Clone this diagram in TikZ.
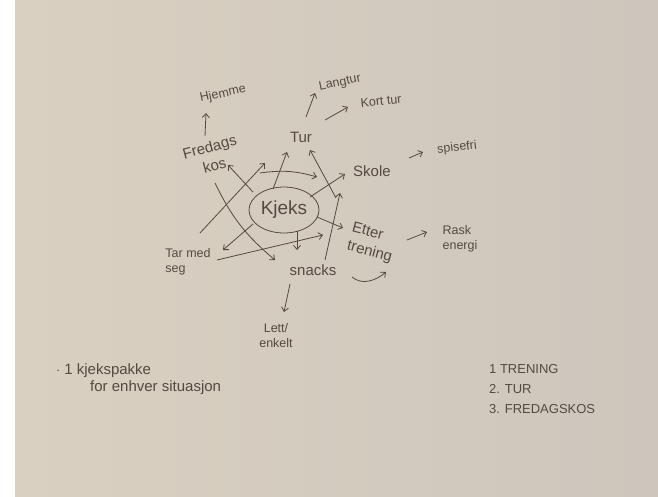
\documentclass[tikz,border=0pt]{standalone}
\usepackage{fontspec}
\setmainfont{Liberation Sans}
\usepackage{tikz}
\usetikzlibrary{positioning,arrows.meta,shapes.geometric,calc}
\definecolor{ink}{RGB}{84,74,66}
\definecolor{paperL}{RGB}{218,208,193}
\definecolor{paperR}{RGB}{204,198,188}

\begin{document}
\begin{tikzpicture}[
  x=1pt, y=-1pt,
  font=\fontsize{15}{17}\selectfont,
  every node/.style={text=ink, inner sep=1pt},
  small/.style={font=\fontsize{12.5}{15}\selectfont},
  tilted/.style={font=\fontsize{15}{19}\selectfont},
  blob/.style={draw=ink, line width=0.8pt, ellipse, minimum width=70, minimum height=46,
               font=\fontsize{19}{21}\selectfont},
  arr/.style={draw=ink, line width=0.8pt, -{Straight Barb[length=4pt,width=7pt]}}
]
\useasboundingbox (0,0) rectangle (658,497);
\fill[white] (0,0) rectangle (658,497);
\shade[left color=paperL, right color=paperR] (15,0) rectangle (658,497);

\node[blob] (kjeks) at (284,210) {Kjeks};
\node (tur) at (301,137) {Tur};
\node[small, rotate=12] (hjemme) at (223,94) {Hjemme};
\node[tilted, align=center, rotate=15] (fredags) at (212,156) {Fredags\\kos};
\node[small, rotate=12] (langtur) at (340,83) {Langtur};
\node[small, rotate=6] (korttur) at (381,101) {Kort tur};
\node (skole) at (372,171) {Skole};
\node[small, rotate=6] (spisefri) at (457,148) {spisefri};
\node[tilted, align=left, rotate=-15] (etter) at (372,243) {Etter\\trening};
\node[small, align=left] (rask) at (460,239) {Rask\\energi};
\node[small, align=left] (tarmed) at (188,262) {Tar med\\seg};
\node (snacks) at (313,270) {snacks};
\node[small, align=center] (lett) at (276,336) {Lett/\\enkelt};
\node[align=left, anchor=north west] (pakke) at (55,362)
  {$\cdot$ 1 kjekspakke\\\hspace*{34pt}for enhver situasjon};
\node[align=left, anchor=north west, font=\fontsize{13}{20}\selectfont] (liste) at (488,363)
  {1 TRENING\\2. TUR\\3. FREDAGSKOS};

\draw[arr] ($(fredags)+(-7,-20)$) -- ($(hjemme)+(-17,19)$);
\draw[arr] ($(tur)+(5,-20)$) -- ($(langtur)+(-25,10)$);
\draw[arr] ($(tur)+(24,-17)$) -- ($(korttur)+(-33,6)$);
\draw[arr] ($(skole)+(37,-13)$) -- ($(spisefri)+(-34,4)$);
\draw[arr] ($(etter)+(35,-3)$) -- ($(rask)+(-33,-7)$);
\draw[arr] ($(snacks)+(-23,14)$) -- ($(lett)+(8,-24)$);
\draw[arr] ($(snacks)+(39,7)$) to[out=-40, in=220] ($(etter)+(14,29)$);
\draw[arr] ($(kjeks)+(-31,-18)$) -- ($(fredags)+(16,9)$);
\draw[arr] ($(tarmed)+(12,-29)$) -- ($(tur)+(-36,26)$);
\draw[arr] ($(kjeks)+(-11,-21)$) -- ($(tur)+(-14,15)$);
\draw[arr] ($(fredags)+(48,17)$) to[bend left=12] ($(skole)+(-55,6)$);
\draw[arr] ($(etter)+(-36,-45)$) -- ($(tur)+(9,13)$);
\draw[arr] ($(kjeks)+(26,-13)$) -- ($(skole)+(-27,3)$);
\draw[arr] ($(kjeks)+(33,7)$) -- ($(etter)+(-29,-15)$);
\draw[arr] ($(snacks)+(12,-10)$) -- ($(skole)+(-32,22)$);
\draw[arr] ($(kjeks)+(13,21)$) -- ($(snacks)+(-16,-20)$);
\draw[arr] ($(kjeks)+(-31,14)$) -- ($(tarmed)+(35,-12)$);
\draw[arr] ($(fredags)+(3,27)$) to[bend right=12] ($(snacks)+(-38,-10)$);
\draw[arr] ($(tarmed)+(29,-2)$) -- ($(etter)+(-49,-8)$);
\end{tikzpicture}
\end{document}
